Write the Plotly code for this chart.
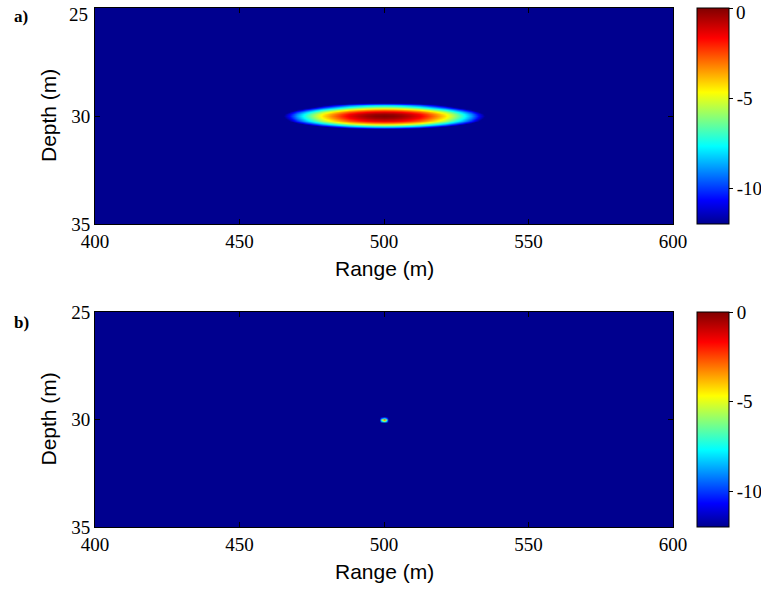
import numpy as np
import plotly.graph_objects as go

# ---- data ----
# panel a: ambiguity surface, dB profiles through the peak (500 m, 30 m)
a_center_range = 500.0
a_center_depth = 30.0
a_range_offsets = [-39, -36, -33, -30, -27, -24, -21, -18, -15, -12, -9, -6, -3, 0,
                   3, 6, 9, 12, 15, 18, 21, 24, 27, 30, 33, 36, 39]
a_range_db = [-14.9, -12.7, -10.7, -8.8, -7.1, -5.6, -4.3, -3.2, -2.2, -1.4, -0.8, -0.35, -0.1, 0.0,
              -0.1, -0.35, -0.8, -1.4, -2.2, -3.2, -4.3, -5.6, -7.1, -8.8, -10.7, -12.7, -14.9]
a_depth_offsets = [-0.7, -0.6, -0.5, -0.4, -0.3, -0.2, -0.1, 0.0, 0.1, 0.2, 0.3, 0.4, 0.5, 0.6, 0.7]
a_depth_db = [-16.3, -12.0, -8.3, -5.3, -3.0, -1.3, -0.3, 0.0, -0.3, -1.3, -3.0, -5.3, -8.3, -12.0, -16.3]

# panel b: tiny peak
b_range = [498.4, 499.2, 500.0, 500.8, 501.6]
b_depth = [29.85, 29.93, 30.0, 30.07, 30.15]
b_db = [[-12, -12, -12, -12, -12],
        [-12, -9.0, -7.0, -9.0, -12],
        [-12, -6.0, -2.0, -6.0, -12],
        [-12, -9.0, -7.0, -9.0, -12],
        [-12, -12, -12, -12, -12]]

x_ticks = [400, 450, 500, 550, 600]
y_ticks = [25, 30, 35]
cbar_ticks = [0, -5, -10]
zmin, zmax = -12, 0

# ---- figure ----
W, H = 761, 590
L, R, T, B = 95, 673, 8, 527          # plot-area pixel box
jet = [[0.0, 'rgb(0,0,143)'], [0.11, 'rgb(0,0,255)'], [0.36, 'rgb(0,255,255)'],
       [0.61, 'rgb(255,255,0)'], [0.86, 'rgb(255,0,0)'], [1.0, 'rgb(128,0,0)']]
bg = 'rgb(0,0,143)'

px_x = lambda p: (p - L) / (R - L)
px_y = lambda p: 1 - (p - T) / (B - T)

a_x = [a_center_range + o for o in a_range_offsets]
a_y = [a_center_depth + o for o in a_depth_offsets]
a_z = np.add.outer(np.array(a_depth_db), np.array(a_range_db))

fig = go.Figure()
fig.add_trace(go.Heatmap(x=a_x, y=a_y, z=a_z, coloraxis='coloraxis', zsmooth='best',
                         xaxis='x', yaxis='y', hoverinfo='skip'))
fig.add_trace(go.Heatmap(x=b_range, y=b_depth, z=b_db, coloraxis='coloraxis2', zsmooth='best',
                         xaxis='x2', yaxis='y2', hoverinfo='skip'))

xdom = [0, 1]
ya_dom = [px_y(224), px_y(8)]
yb_dom = [px_y(527), px_y(312)]

serif = 'Liberation Serif, Times New Roman, serif'
tickfont = dict(family=serif, size=19, color='black')
axis_common = dict(showgrid=False, zeroline=False, ticks='inside', ticklen=5, tickwidth=1,
                   tickcolor='black', showline=True, linecolor='black', linewidth=1,
                   mirror='ticks', tickfont=tickfont, automargin=False,
                   ticklabeloverflow='allow')

def cbar(dom, top_label=True):
    txt = [str(t) for t in cbar_ticks]
    if not top_label:
        txt[0] = ''
    return dict(x=px_x(697), xanchor='left', xpad=0, thickness=32,
                lenmode='fraction', len=dom[1] - dom[0], y=(dom[0] + dom[1]) / 2,
                yanchor='middle', ypad=0, outlinewidth=1, outlinecolor='black',
                tickvals=cbar_ticks, ticktext=txt,
                ticks='outside', ticklen=4, tickcolor='black', tickfont=tickfont,
                ticklabeloverflow='allow')

y_text_a = [str(t) for t in y_ticks]
y_text_a[0] = ''   # top label drawn below as text so it is not clipped at the page edge

fig.update_layout(
    width=W, height=H, margin=dict(l=L, r=W - R, t=T, b=H - B, autoexpand=False),
    paper_bgcolor='white', plot_bgcolor=bg, showlegend=False,
    xaxis=dict(domain=xdom, anchor='y', range=[400, 600], tickvals=x_ticks, **axis_common),
    yaxis=dict(domain=ya_dom, anchor='x', range=[35, 25], tickvals=y_ticks, ticktext=y_text_a,
               **axis_common),
    xaxis2=dict(domain=xdom, anchor='y2', range=[400, 600], tickvals=x_ticks, **axis_common),
    yaxis2=dict(domain=yb_dom, anchor='x2', range=[35, 25], tickvals=y_ticks, **axis_common),
    coloraxis=dict(colorscale=jet, cmin=zmin, cmax=zmax, colorbar=cbar(ya_dom, top_label=False)),
    coloraxis2=dict(colorscale=jet, cmin=zmin, cmax=zmax, colorbar=cbar(yb_dom)),
)

title_font = dict(family='Liberation Sans, Arial, sans-serif', size=21, color='black')
label_font = dict(family=serif, size=17, color='black')
ann = []
for yt, yb_ in [(8, 224), (312, 527)]:
    ann.append(dict(text='Range (m)', x=px_x(384), y=px_y(yb_ + 44), xref='paper', yref='paper',
                    xanchor='center', yanchor='middle', showarrow=False, font=title_font))
    ann.append(dict(text='Depth (m)', x=px_x(48), y=px_y((yt + yb_) / 2), xref='paper', yref='paper',
                    xanchor='center', yanchor='middle', showarrow=False, textangle=-90, font=title_font))
ann.append(dict(text='<b>a)</b>', x=px_x(12), y=px_y(16), xref='paper', yref='paper',
                xanchor='left', yanchor='middle', showarrow=False, font=label_font))
ann.append(dict(text='<b>b)</b>', x=px_x(12), y=px_y(322), xref='paper', yref='paper',
                xanchor='left', yanchor='middle', showarrow=False, font=label_font))
# top tick labels of panel a (axis and colour bar)
ann.append(dict(text=str(y_ticks[0]), x=px_x(89), y=px_y(3), xref='paper', yref='paper',
                xanchor='right', yanchor='top', showarrow=False, font=tickfont,
                borderpad=0))
ann.append(dict(text=str(cbar_ticks[0]), x=px_x(735), y=px_y(1), xref='paper', yref='paper',
                xanchor='left', yanchor='top', showarrow=False, font=tickfont,
                borderpad=0))
fig.update_layout(annotations=ann)

fig.write_html('out.html')
